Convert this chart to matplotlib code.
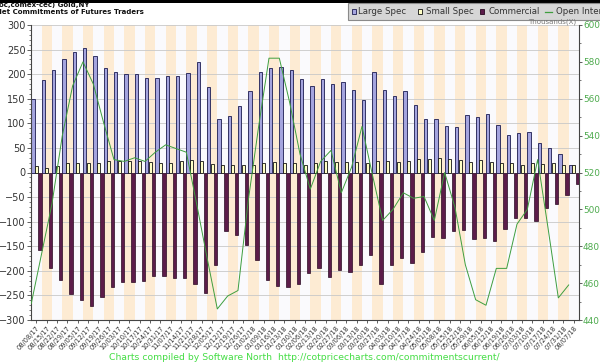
import numpy as np
import matplotlib
matplotlib.use('Agg')
import matplotlib.pyplot as plt
from matplotlib.patches import Rectangle
from matplotlib.lines import Line2D
from matplotlib.ticker import MultipleLocator

dates = ["08/08/17", "08/15/17", "08/22/17", "08/29/17", "09/05/17", "09/12/17", "09/19/17",
         "09/26/17", "10/03/17", "10/10/17", "10/17/17", "10/24/17", "10/31/17", "11/07/17",
         "11/14/17", "11/21/17", "11/28/17", "12/05/17", "12/12/17", "12/19/17", "12/26/17",
         "01/02/18", "01/09/18", "01/16/18", "01/23/18", "01/30/18", "02/06/18", "02/13/18",
         "02/20/18", "02/27/18", "03/06/18", "03/13/18", "03/20/18", "03/27/18", "04/03/18",
         "04/10/18", "04/17/18", "04/24/18", "05/01/18", "05/08/18", "05/15/18", "05/22/18",
         "05/29/18", "06/05/18", "06/12/18", "06/19/18", "06/26/18", "07/03/18", "07/10/18",
         "07/17/18", "07/24/18", "07/31/18", "08/07/18"]

large_spec = [150, 189, 209, 231, 245, 254, 237, 213, 204, 201, 201, 193, 193, 197, 197, 202,
              225, 174, 108, 115, 136, 165, 204, 212, 214, 208, 190, 175, 190, 180, 184, 168,
              148, 204, 167, 156, 165, 138, 108, 108, 94, 92, 116, 112, 120, 97, 77, 80, 82,
              59, 49, 37, 15]

small_spec = [13, 10, 13, 19, 19, 20, 19, 23, 23, 24, 23, 21, 20, 20, 23, 26, 23, 18, 15, 16,
              16, 16, 19, 22, 20, 20, 16, 20, 24, 22, 22, 22, 20, 24, 24, 22, 24, 27, 27, 30,
              27, 25, 22, 25, 22, 20, 20, 16, 20, 17, 20, 15, 15]

commercial = [-158, -195, -219, -248, -260, -272, -253, -233, -223, -222, -221, -210, -210,
              -215, -215, -226, -246, -188, -119, -127, -148, -177, -219, -231, -233, -226,
              -205, -194, -213, -199, -203, -188, -167, -226, -189, -174, -185, -161, -131,
              -134, -118, -116, -136, -134, -140, -114, -93, -93, -99, -73, -65, -46, -23]

open_interest = [449, 476, 503, 540, 567, 580, 568, 547, 527, 526, 528, 526, 531, 535, 533,
                 531, 503, 474, 446, 453, 456, 505, 545, 582, 582, 558, 530, 511, 526, 532,
                 509, 523, 545, 519, 494, 500, 509, 506, 507, 494, 520, 501, 470, 451, 448,
                 468, 468, 492, 500, 527, 490, 452, 459]

W, H = 600, 363
fig = plt.figure(figsize=(W / 100, H / 100), dpi=100)
fig.patch.set_facecolor('white')

L, R, T, B = 31.3, 579.0, 25.0, 320.0
ax = fig.add_axes([L / W, 1 - B / H, (R - L) / W, (B - T) / H])
ax.set_facecolor('#FAFAFD')

n = len(dates)
x = np.arange(n)
for i in range(1, n, 2):
    ax.axvspan(i - 0.5, i + 0.5, color='#FDEBD3', zorder=0, lw=0)

ax.set_axisbelow(True)
ax.yaxis.grid(True, color='#C8C8C8', lw=0.6)

bw = 0.31
ax.bar(x - 0.333, large_spec, width=bw, color='#A4A4DE', edgecolor='#1A1A50', lw=0.6, zorder=2)
ax.bar(x, small_spec, width=bw, color='#FFFFC6', edgecolor='#111111', lw=0.6, zorder=2)
ax.bar(x + 0.333, commercial, width=bw, color='#5C1C4A', edgecolor='#2A0A22', lw=0.5, zorder=2)

ax.set_xlim(-0.5, n - 0.5)
ax.set_ylim(-300, 300)
ax.yaxis.set_major_locator(MultipleLocator(50))
ax.yaxis.set_minor_locator(MultipleLocator(10))
ax.set_xticks(x)
ax.set_xticklabels(dates, rotation=48, ha='right', rotation_mode='anchor', fontsize=4.8, color='#333333')
ax.tick_params(axis='x', length=2.5, width=0.6, pad=1.2, color='#444444')
ax.tick_params(axis='y', which='major', length=3, width=0.6, pad=1, labelsize=7, labelcolor='#333333', color='#444444')
ax.tick_params(axis='y', which='minor', length=1.5, width=0.5, color='#444444')
for s in ['top', 'right']:
    ax.spines[s].set_visible(False)
for s in ['left', 'bottom']:
    ax.spines[s].set_color('#444444')
    ax.spines[s].set_linewidth(0.8)

ax2 = ax.twinx()
ax2.plot(x - 0.5, open_interest, color='#3E9E3E', lw=0.7, zorder=3)
ax2.set_ylim(440, 600)
ax2.yaxis.set_major_locator(MultipleLocator(20))
ax2.yaxis.set_minor_locator(MultipleLocator(10))
ax2.tick_params(axis='y', which='major', length=2, width=0.6, pad=0.8, labelsize=6.4, labelcolor='#4DAA4D', color='#444444')
ax2.tick_params(axis='y', which='minor', length=1.2, width=0.5, color='#444444')
for s in ['top', 'left', 'bottom']:
    ax2.spines[s].set_visible(False)
ax2.spines['right'].set_color('#444444')
ax2.spines['right'].set_linewidth(0.8)

def fx(px):
    return px / W

def fy(py):
    return 1 - py / H

# top strip
fig.patches.append(Rectangle((0, fy(2.7)), 1, 2.7 / H, transform=fig.transFigure,
                             facecolor='black', edgecolor='none'))

# titles
fig.text(fx(-1), fy(5.2), "oc,comex-cec) Gold,NY", fontsize=5.0, fontweight='bold',
         color='#111111', ha='left', va='center')
fig.text(fx(-4.0), fy(11.8), "Net Commitments of Futures Traders", fontsize=5.0, fontweight='bold',
         color='#111111', ha='left', va='center')

# legend box
fig.patches.append(Rectangle((fx(348), fy(20)), (W - 348) / W + 0.01, 17 / H, transform=fig.transFigure,
                             facecolor='#D6D6D6', edgecolor='#8A8A8A', lw=0.8))
ly = fy(11.5)
def sq(px, color, edge):
    fig.patches.append(Rectangle((fx(px), fy(13.5)), 4.5 / W, 4.5 / H, transform=fig.transFigure,
                                 facecolor=color, edgecolor=edge, lw=0.6))
sq(351.5, '#A4A4DE', '#1A1A50')
fig.text(fx(358), ly, "Large Spec", fontsize=6.2, color='#333333', ha='left', va='center')
sq(417.5, '#FFFFC6', '#111111')
fig.text(fx(426), ly, "Small Spec", fontsize=6.2, color='#333333', ha='left', va='center')
sq(480, '#5C1C4A', '#2A0A22')
fig.text(fx(489), ly, "Commercial", fontsize=6.2, color='#333333', ha='left', va='center')
fig.lines.append(Line2D([fx(545), fx(551.5)], [ly, ly], transform=fig.transFigure,
                        color='#3E9E3E', lw=0.9))
fig.text(fx(556), ly, "Open Interest", fontsize=6.2, color='#333333', ha='left', va='center')

fig.text(fx(576), fy(22.0), "Thousands(X)", fontsize=5.0, color='#777777', ha='right', va='center')

fig.text(fx(304), fy(357.5), "Charts compiled by Software North  http://cotpricecharts.com/commitmentscurrent/",
         fontsize=6.7, color='#44DD44', ha='center', va='center')

fig.savefig('out.png', dpi=100)
